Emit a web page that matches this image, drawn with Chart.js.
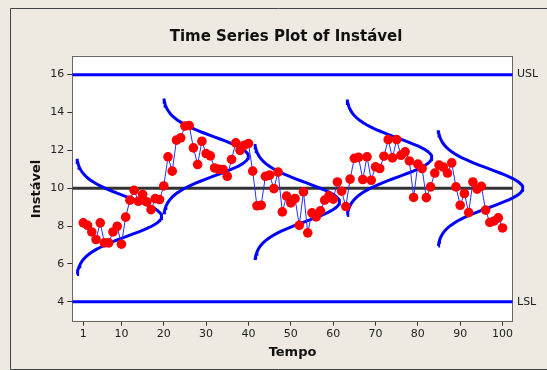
<!DOCTYPE html>
<html>
<head>
<meta charset="utf-8">
<script src="https://cdn.jsdelivr.net/npm/chart.js@4/dist/chart.umd.min.js"></script>
<style>
  body { margin: 0; background: #eeeae1; }
  canvas { display: block; }
</style>
</head>
<body>
<canvas id="ts_chart" width="547" height="370"></canvas>
<script>
// Data
const tempo = [];
for (let i = 1; i <= 100; i++) tempo.push(i);

const instavel = [
    8.17, 8.04, 7.69, 7.29, 8.17, 7.11, 7.11, 7.69, 7.99, 7.04,
    8.47, 9.37, 9.89, 9.31, 9.67, 9.28, 8.87, 9.45, 9.40, 10.12,
    11.66, 10.90, 12.54, 12.66, 13.28, 13.31, 12.13, 11.25, 12.48, 11.83,
    11.71, 11.07, 11.00, 10.99, 10.63, 11.52, 12.40, 12.00, 12.27, 12.36,
    10.90, 9.07, 9.10, 10.63, 10.69, 9.98, 10.85, 8.75, 9.58, 9.22,
    9.45, 8.04, 9.81, 7.64, 8.70, 8.48, 8.80, 9.37, 9.60, 9.42,
    10.33, 9.84, 9.03, 10.48, 11.58, 11.63, 10.46, 11.66, 10.42, 11.13,
    11.04, 11.69, 12.57, 11.60, 12.57, 11.74, 11.92, 11.44, 9.51, 11.27,
    11.04, 9.50, 10.07, 10.80, 11.22, 11.12, 10.80, 11.34, 10.07, 9.10,
    9.72, 8.71, 10.33, 9.95, 10.10, 8.84, 8.19, 8.27, 8.43, 7.90
];

// normal curves drawn sideways, one per stage
const curveBase  = [-0.7, 19.8, 41.3, 63.1, 84.6];
const curveMean  = [8.50, 11.68, 9.27, 11.62, 10.00];
const curveSigma = [1.02, 1.02, 1.02, 1.02, 1.02];
const curveWidth = 20.2;

const usl = 16;
const lsl = 4;
const target = 10;

const xTicks = [1, 10, 20, 30, 40, 50, 60, 70, 80, 90, 100];
const yTicks = [4, 6, 8, 10, 12, 14, 16];
const xMin = -1.6, xMax = 102.4;
const yMin = 3, yMax = 17;

// build the curve point lists
function curvePoints(k) {
    const pts = [];
    for (let z = -3; z <= 3.0001; z += 0.1) {
        pts.push({
            x: curveBase[k] + curveWidth * Math.exp(-0.5 * z * z),
            y: curveMean[k] + z * curveSigma[k]
        });
    }
    return pts;
}

function hLine(v) {
    return [{x: xMin, y: v}, {x: xMax, y: v}];
}

const datasets = [{
    data: tempo.map((t, i) => ({x: t, y: instavel[i]})),
    showLine: true,
    borderColor: '#2b2bff',
    borderWidth: 1,
    pointRadius: 4.8,
    pointBackgroundColor: '#ff0000',
    pointBorderWidth: 0,
    order: 0
}];

for (let k = 0; k < curveBase.length; k++) {
    datasets.push({
        data: curvePoints(k),
        showLine: true,
        borderColor: '#0000ff',
        borderWidth: 3,
        pointRadius: 0,
        clip: false,
        order: 1
    });
}

datasets.push({data: hLine(usl), showLine: true, borderColor: '#0000ff', borderWidth: 3, pointRadius: 0, order: 2});
datasets.push({data: hLine(lsl), showLine: true, borderColor: '#0000ff', borderWidth: 3, pointRadius: 0, order: 2});
datasets.push({data: hLine(target), showLine: true, borderColor: '#333333', borderWidth: 3, pointRadius: 0, order: 2});

// background, frame and texts
const decor = {
    id: 'decor',
    beforeDraw(chart) {
        const ctx = chart.ctx;
        const a = chart.chartArea;
        ctx.save();
        ctx.fillStyle = '#eeeae1';
        ctx.fillRect(0, 0, chart.width, chart.height);
        ctx.strokeStyle = '#444';
        ctx.lineWidth = 1;
        ctx.beginPath();
        ctx.moveTo(547, 8.5);
        ctx.lineTo(10.5, 8.5);
        ctx.lineTo(10.5, 369.5);
        ctx.lineTo(547, 369.5);
        ctx.stroke();
        ctx.fillStyle = '#ffffff';
        ctx.fillRect(a.left, a.top, a.right - a.left, a.bottom - a.top);
        ctx.restore();
    },
    beforeDatasetsDraw(chart) {
        const ctx = chart.ctx;
        const a = chart.chartArea;
        ctx.save();
        ctx.strokeStyle = '#666';
        ctx.lineWidth = 1;
        ctx.strokeRect(Math.round(a.left) + 0.5, Math.round(a.top) + 0.5,
            Math.round(a.right - a.left), Math.round(a.bottom - a.top));
        ctx.restore();
    },
    afterDraw(chart) {
        const ctx = chart.ctx;
        const ys = chart.scales.y;
        ctx.save();
        ctx.fillStyle = '#111';
        ctx.textAlign = 'center';
        ctx.textBaseline = 'middle';
        ctx.font = 'bold 15px "DejaVu Sans"';
        ctx.fillText('Time Series Plot of Instável', 286, 37);
        ctx.font = 'bold 13px "DejaVu Sans"';
        ctx.fillText('Tempo', 292.5, 353);
        ctx.translate(37, 189);
        ctx.rotate(-Math.PI / 2);
        ctx.fillText('Instável', 0, 0);
        ctx.restore();

        ctx.save();
        ctx.fillStyle = '#222';
        ctx.font = '11px "DejaVu Sans"';
        ctx.textAlign = 'left';
        ctx.textBaseline = 'middle';
        ctx.fillText('USL', 517, ys.getPixelForValue(usl));
        ctx.fillText('LSL', 517, ys.getPixelForValue(lsl));
        ctx.restore();
    }
};

const chart_config = {
    type: 'scatter',
    data: {datasets: datasets},
    options: {
        responsive: false,
        animation: false,
        devicePixelRatio: 1,
        layout: {padding: {top: 55.7, right: 34.3, bottom: 0, left: 0}},
        plugins: {
            legend: {display: false},
            tooltip: {enabled: false}
        },
        scales: {
            x: {
                type: 'linear',
                min: xMin,
                max: xMax,
                afterBuildTicks: (scale) => { scale.ticks = xTicks.map(v => ({value: v})); },
                afterFit: (scale) => { scale.height = 49.3; },
                ticks: {
                    autoSkip: false,
                    maxRotation: 0,
                    padding: 2,
                    color: '#222',
                    font: {family: 'DejaVu Sans', size: 11}
                },
                grid: {drawOnChartArea: false, drawTicks: true, tickLength: 5, color: '#333'},
                border: {display: false}
            },
            y: {
                min: yMin,
                max: yMax,
                afterBuildTicks: (scale) => { scale.ticks = yTicks.map(v => ({value: v})); },
                afterFit: (scale) => { scale.width = 72.3; },
                ticks: {
                    padding: 3,
                    color: '#222',
                    font: {family: 'DejaVu Sans', size: 11}
                },
                grid: {drawOnChartArea: false, drawTicks: true, tickLength: 5, color: '#333'},
                border: {display: false}
            }
        }
    },
    plugins: [decor]
};

const tsChart = new Chart(
    document.getElementById('ts_chart'),
    chart_config
);
</script>
</body>
</html>
